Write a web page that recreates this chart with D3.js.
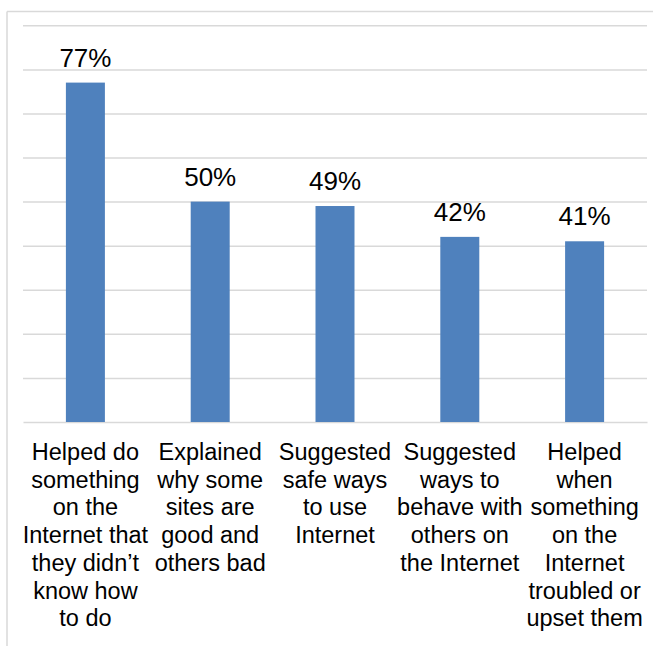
<!DOCTYPE html>
<html>
<head>
<meta charset="utf-8">
<script src="https://cdn.jsdelivr.net/npm/d3@7"></script>
<style>
  html, body { margin: 0; padding: 0; background: #fff; }
  svg { display: block; }
  text { font-family: Arial, "Liberation Sans", Helvetica, sans-serif; fill: #000; }
</style>
</head>
<body>
<svg id="chart" width="653" height="646"></svg>
<script>
// ---- data ----
const categories = [
  "Helped do something on the Internet that they didn’t know how to do",
  "Explained why some sites are good and others bad",
  "Suggested safe ways to use Internet",
  "Suggested ways to behave with others on the Internet",
  "Helped when something on the Internet troubled or upset them"
];
const categoryLines = [
  ["Helped do", "something", "on the", "Internet that", "they didn’t", "know how", "to do"],
  ["Explained", "why some", "sites are", "good and", "others bad"],
  ["Suggested", "safe ways", "to use", "Internet"],
  ["Suggested", "ways to", "behave with", "others on", "the Internet"],
  ["Helped", "when", "something", "on the", "Internet", "troubled or", "upset them"]
];
const values = [77, 50, 49, 42, 41];
const gridTicks = [10, 20, 30, 40, 50, 60, 70, 80, 90];

// ---- layout ----
const svg = d3.select("#chart");
const plotLeft = 23, plotRight = 647, plotTop = 25.3, plotBottom = 422;
const gridColor = "#d9d9d9";
const barColor = "#4f81bd";

// frame (top and left border)
svg.append("line").attr("x1", 7).attr("x2", 653).attr("y1", 11.5).attr("y2", 11.5)
  .attr("stroke", gridColor).attr("stroke-width", 1.5);
svg.append("line").attr("x1", 7).attr("x2", 7).attr("y1", 11.5).attr("y2", 646)
  .attr("stroke", gridColor).attr("stroke-width", 1.5);

const x = d3.scaleBand().domain(categories).range([plotLeft, plotRight]).padding(0);
const y = d3.scaleLinear().domain([0, 90]).range([plotBottom, plotTop]);

// gridlines
const gridAxis = d3.axisLeft(y).tickValues(gridTicks).tickSize(-(plotRight - plotLeft)).tickFormat("");
const g = svg.append("g").attr("transform", `translate(${plotLeft},0)`).call(gridAxis);
g.select(".domain").remove();
g.selectAll(".tick line").attr("stroke", gridColor).attr("stroke-width", 1.5);

// baseline axis
const xAxis = d3.axisBottom(x).tickSize(0).tickFormat("");
const xa = svg.append("g").attr("transform", `translate(0,${plotBottom})`).call(xAxis);
xa.select(".domain").attr("stroke", gridColor).attr("stroke-width", 1.5);

// bars
const barW = x.bandwidth() * 0.3125;
svg.append("g").selectAll("rect").data(values).join("rect")
  .attr("x", (d, i) => x(categories[i]) + x.bandwidth() / 2 - barW / 2)
  .attr("width", barW)
  .attr("y", d => y(d))
  .attr("height", d => y(0) - y(d))
  .attr("fill", barColor);

// value labels
svg.append("g").selectAll("text").data(values).join("text")
  .attr("x", (d, i) => x(categories[i]) + x.bandwidth() / 2)
  .attr("y", d => y(d) - 16)
  .attr("text-anchor", "middle")
  .style("font-size", "26px")
  .text(d => d + "%");

// category labels
const lab = svg.append("g").selectAll("text").data(categories).join("text")
  .attr("x", d => x(d) + x.bandwidth() / 2)
  .attr("y", 460)
  .attr("text-anchor", "middle")
  .style("font-size", "23.5px");
lab.each(function(d, i) {
  const t = d3.select(this);
  categoryLines[i].forEach((ln, j) => {
    t.append("tspan").attr("x", x(d) + x.bandwidth() / 2).attr("y", 460 + j * 27.7).text(ln);
  });
});
</script>
</body>
</html>
